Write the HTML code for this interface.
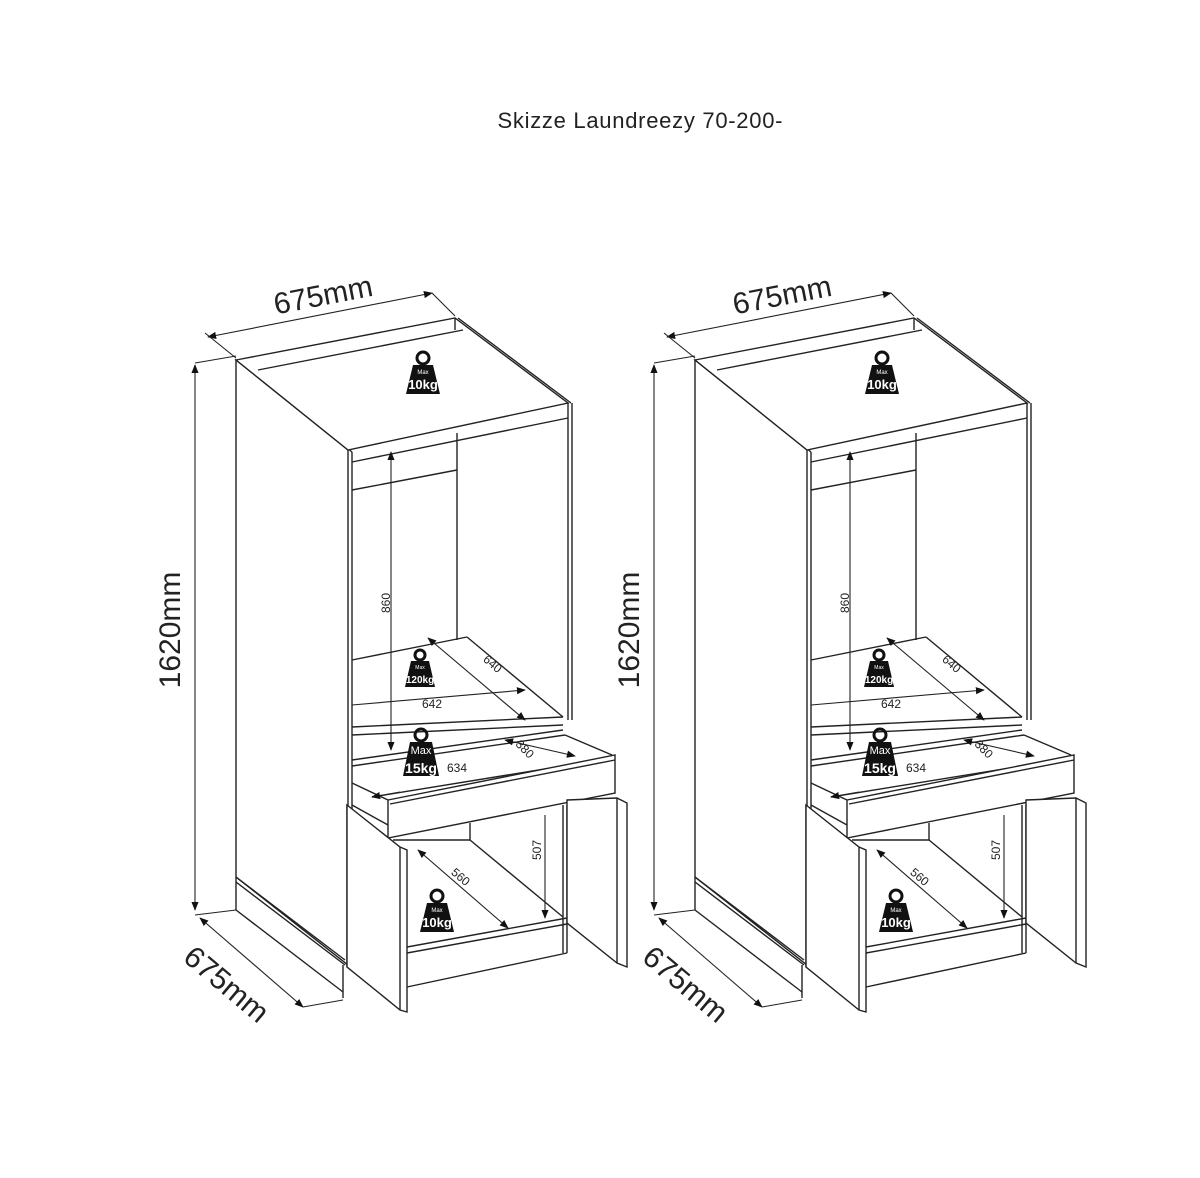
<!DOCTYPE html>
<html><head><meta charset="utf-8"><style>
html,body{margin:0;padding:0;background:#fff;}
svg{display:block;}
text{font-family:"Liberation Sans",sans-serif;}
</style></head><body>
<svg width="1200" height="1178" viewBox="0 0 1200 1178" xmlns="http://www.w3.org/2000/svg">
<defs>
<marker id="ar" viewBox="0 0 10 10" refX="9" refY="5" markerWidth="9" markerHeight="9" orient="auto-start-reverse" markerUnits="userSpaceOnUse">
<path d="M0,1 L10,5 L0,9 z" fill="#111"/></marker>
</defs>
<text x="640" y="128" font-size="22" text-anchor="middle" fill="#222" textLength="285">Skizze Laundreezy 70-200-</text>
<g id="cab" fill="none" stroke="#222" stroke-width="1.4">
  <polygon points="236,360 348,450 348,965 236,877" fill="#fff"/>
  <line x1="240" y1="362" x2="352" y2="452"/>
  <line x1="352" y1="452" x2="352" y2="965"/>
  <line x1="236" y1="877" x2="236" y2="910"/>
  <line x1="236" y1="877" x2="345" y2="960"/>
  <line x1="236" y1="882" x2="345" y2="965"/>
  <line x1="236" y1="910" x2="343" y2="992"/>
  <line x1="343" y1="965" x2="343" y2="998"/>
  <polygon points="236,360 455,318 568,403 348,450" fill="#fff"/>
  <line x1="258" y1="370" x2="463" y2="330"/>
  <line x1="455" y1="318" x2="455" y2="330"/>
  <line x1="458" y1="318" x2="571" y2="403"/>
  <line x1="352" y1="462" x2="568" y2="418"/>
  <line x1="568" y1="403" x2="568" y2="720"/>
  <line x1="572" y1="403" x2="572" y2="720"/>
  <line x1="457" y1="433" x2="457" y2="640"/>
  <line x1="352" y1="490" x2="457" y2="470"/>
  <line x1="352" y1="660" x2="467" y2="637"/>
  <line x1="467" y1="637" x2="563" y2="717"/>
  <line x1="352" y1="727" x2="563" y2="717"/>
  <line x1="352" y1="735" x2="563" y2="725"/>
  <line x1="352" y1="760" x2="563" y2="730"/>
  <line x1="352" y1="766" x2="565" y2="735"/>
  <line x1="565" y1="735" x2="612" y2="755"/>
  <line x1="352" y1="783" x2="388" y2="800"/>
  <line x1="352" y1="805" x2="388" y2="825"/>
  <line x1="372" y1="797" x2="612" y2="758"/>
  <polygon points="388,800 615,755 615,793 388,838" fill="#fff"/>
  <line x1="390" y1="804" x2="615" y2="760"/>
  <line x1="347" y1="805" x2="347" y2="967"/>
  <line x1="393" y1="840" x2="470" y2="840"/>
  <line x1="470" y1="823" x2="470" y2="840"/>
  <line x1="470" y1="840" x2="563" y2="917"/>
  <line x1="407" y1="947" x2="567" y2="918"/>
  <line x1="407" y1="953" x2="567" y2="924"/>
  <line x1="407" y1="987" x2="567" y2="953"/>
  <line x1="563" y1="805" x2="563" y2="953"/>
  <line x1="567" y1="805" x2="567" y2="953"/>
  <polygon points="347,805 400,847 407,850 407,1012 400,1010 347,967" fill="#fff"/>
  <line x1="400" y1="847" x2="400" y2="1010"/>
  <polygon points="567,800 617,798 627,803 627,967 617,963 567,923" fill="#fff"/>
  <line x1="617" y1="798" x2="617" y2="963"/>
  <g stroke-width="1.1">
  <line x1="391" y1="452" x2="391" y2="750" marker-start="url(#ar)" marker-end="url(#ar)"/>
  <line x1="428" y1="638" x2="525" y2="720" marker-start="url(#ar)" marker-end="url(#ar)"/>
  <line x1="352" y1="705" x2="525" y2="690" marker-end="url(#ar)"/>
  <line x1="505" y1="740" x2="575" y2="756" marker-start="url(#ar)" marker-end="url(#ar)"/>
  <line x1="372" y1="797" x2="400" y2="792" marker-start="url(#ar)"/>
  <line x1="545" y1="815" x2="545" y2="918" marker-end="url(#ar)"/>
  <line x1="418" y1="850" x2="508" y2="928" marker-start="url(#ar)" marker-end="url(#ar)"/>
  <line x1="195" y1="365" x2="195" y2="910" marker-start="url(#ar)" marker-end="url(#ar)"/>
  <line x1="208" y1="337" x2="432" y2="293" marker-start="url(#ar)" marker-end="url(#ar)"/>
  <line x1="200" y1="918" x2="303" y2="1007" marker-start="url(#ar)" marker-end="url(#ar)"/>
  <line x1="195" y1="363" x2="236" y2="356"/>
  <line x1="205" y1="333" x2="236" y2="358"/>
  <line x1="432" y1="293" x2="455" y2="316"/>
  <line x1="303" y1="1007" x2="343" y2="1000"/>
  <line x1="195" y1="915" x2="236" y2="910"/>
  </g>
  <g stroke="none">
    <g transform="translate(423,370)"><circle cx="0" cy="-12" r="6" fill="none" stroke="#111" stroke-width="3"/><polygon points="-10,-5 10,-5 17,24 -17,24" fill="#111"/><text x="0" y="4" font-size="6" fill="#fff" text-anchor="middle">Max</text><text x="0" y="19" font-size="13" font-weight="bold" fill="#fff" text-anchor="middle">10kg</text></g>
    <g transform="translate(420,666)"><circle cx="0" cy="-11" r="5" fill="none" stroke="#111" stroke-width="3"/><polygon points="-9,-5 9,-5 15,21 -15,21" fill="#111"/><text x="0" y="3" font-size="5" fill="#fff" text-anchor="middle">Max</text><text x="0" y="17" font-size="10" font-weight="bold" fill="#fff" text-anchor="middle">120kg</text></g>
    <g transform="translate(421,748)"><circle cx="0" cy="-13" r="6" fill="none" stroke="#111" stroke-width="3"/><polygon points="-11,-6 11,-6 18,28 -18,28" fill="#111"/><text x="0" y="6" font-size="11" fill="#fff" text-anchor="middle">Max</text><text x="0" y="25" font-size="14" font-weight="bold" fill="#fff" text-anchor="middle">15kg</text></g>
    <g transform="translate(437,908)"><circle cx="0" cy="-12" r="6" fill="none" stroke="#111" stroke-width="3"/><polygon points="-10,-5 10,-5 17,24 -17,24" fill="#111"/><text x="0" y="4" font-size="6" fill="#fff" text-anchor="middle">Max</text><text x="0" y="19" font-size="13" font-weight="bold" fill="#fff" text-anchor="middle">10kg</text></g>
  </g>
  <g stroke="none" fill="#222">
    <text font-size="12" transform="translate(390,603) rotate(-90)" text-anchor="middle">860</text>
    <text font-size="12" transform="translate(490,667) rotate(40)" text-anchor="middle">640</text>
    <text font-size="12" x="432" y="708" text-anchor="middle">642</text>
    <text font-size="12" x="457" y="772" text-anchor="middle">634</text>
    <text font-size="12" transform="translate(522,752) rotate(45)" text-anchor="middle">380</text>
    <text font-size="12" transform="translate(541,850) rotate(-90)" text-anchor="middle">507</text>
    <text font-size="12" transform="translate(458,880) rotate(40)" text-anchor="middle">560</text>
    <text font-size="30" transform="translate(325,305) rotate(-11)" text-anchor="middle">675mm</text>
    <text font-size="30" transform="translate(180,630) rotate(-90)" text-anchor="middle">1620mm</text>
    <text font-size="30" transform="translate(220,992) rotate(40)" text-anchor="middle">675mm</text>
  </g>
</g>
<use href="#cab" transform="translate(459,0)"/>
</svg>
</body></html>
